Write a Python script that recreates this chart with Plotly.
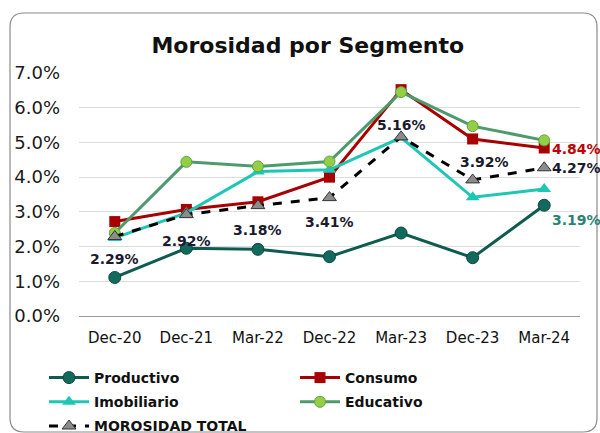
import plotly.graph_objects as go

categories = ["Dec-20", "Dec-21", "Mar-22", "Dec-22", "Mar-23", "Dec-23", "Mar-24"]
productivo = [1.11, 1.95, 1.92, 1.71, 2.39, 1.68, 3.19]
consumo = [2.72, 3.07, 3.29, 4.00, 6.52, 5.10, 4.84]
imobiliario = [2.25, 2.97, 4.16, 4.21, 5.14, 3.42, 3.66]
educativo = [2.39, 4.44, 4.31, 4.45, 6.45, 5.47, 5.06]
total = [2.29, 2.92, 3.18, 3.41, 5.16, 3.92, 4.27]
y_ticks = [0, 1, 2, 3, 4, 5, 6, 7]

FONT = "DejaVu Sans"
W, H = 600, 433
L, R, T, B = 79, 20, 73, 117
PW, PH = W - L - R, H - T - B

fig = go.Figure()
fig.add_trace(go.Scatter(x=categories, y=productivo, name="Productivo", mode="lines+markers",
                         legend="legend", legendgroup="p",
                         line=dict(color="#0E5C50", width=3),
                         marker=dict(symbol="circle", size=12, color="#13695C",
                                     line=dict(color="#0A4A40", width=1))))
fig.add_trace(go.Scatter(x=categories, y=consumo, name="Consumo", mode="lines+markers",
                         legend="legend2", legendgroup="c",
                         line=dict(color="#A80000", width=3),
                         marker=dict(symbol="square", size=11, color="#A80000")))
fig.add_trace(go.Scatter(x=categories, y=imobiliario, name="Imobiliario", mode="lines+markers",
                         legend="legend", legendgroup="i",
                         line=dict(color="#1EC6B4", width=3),
                         marker=dict(symbol="triangle-up", size=12, color="#1EC6B4")))
fig.add_trace(go.Scatter(x=categories, y=educativo, name="Educativo", mode="lines+markers",
                         legend="legend2", legendgroup="e",
                         line=dict(color="#4F9A6C", width=3),
                         marker=dict(symbol="circle", size=11, color="#92CF45",
                                     line=dict(color="#5FA348", width=1))))
fig.add_trace(go.Scatter(x=categories, y=total, name="MOROSIDAD TOTAL", mode="lines+markers",
                         legend="legend", legendgroup="t",
                         line=dict(color="#000000", width=3, dash="dash"),
                         marker=dict(symbol="triangle-up", size=12, color="#8C8C8C",
                                     line=dict(color="#333333", width=1))))

# data labels
label_specs = [
    (total, 0, 0, -22, "#1A1A2E"),
    (total, 1, 0, -26, "#1A1A2E"),
    (total, 2, 0, -24, "#1A1A2E"),
    (total, 3, 0, -24, "#1A1A2E"),
    (total, 4, 0, 12, "#1A1A2E"),
    (total, 5, 12, 18, "#1A1A2E"),
    (total, 6, 32, 0, "#1A1A2E"),
    (consumo, 6, 32, -1, "#C00000"),
    (productivo, 6, 32, -15, "#2A8276"),
]
for series, i, dx, dy, col in label_specs:
    fig.add_annotation(x=categories[i], y=series[i], text=f"{series[i]:.2f}%",
                       showarrow=False, xshift=dx, yshift=dy,
                       font=dict(family=FONT, size=14, color=col, weight="bold"))

legend_common = dict(orientation="v", xref="container", yref="container",
                     xanchor="left", yanchor="top", bgcolor="rgba(0,0,0,0)",
                     font=dict(family=FONT, size=14, color="#111111", weight="bold"),
                     traceorder="grouped", itemwidth=40, tracegroupgap=3)

fig.update_layout(
    width=W, height=H,
    margin=dict(l=L, r=R, t=T, b=B, autoexpand=False),
    paper_bgcolor="white", plot_bgcolor="white",
    font=dict(family=FONT, color="#1A1A1A"),
    title=dict(text="<b>Morosidad por Segmento</b>", x=0.513, xanchor="center",
               y=1 - 45 / H, yanchor="middle", yref="container",
               font=dict(family=FONT, size=22, color="#111111")),
    showlegend=True,
    legend=dict(x=44 / W, y=1 - 362 / H, **legend_common),
    legend2=dict(x=295 / W, y=1 - 362 / H, **legend_common),
    xaxis=dict(type="category", range=[-0.5, 6.5], showgrid=False, showline=True,
               linecolor="#9A9A9A", linewidth=1, ticks="", ticklabelstandoff=8,
               tickfont=dict(family=FONT, size=15, color="#111111")),
    yaxis=dict(range=[0, 7], tickvals=y_ticks, ticktext=[f"{v:.1f}%" for v in y_ticks],
               showgrid=True, gridcolor="#DCDCDC", gridwidth=1, zeroline=False,
               showline=False, ticklabelstandoff=18,
               tickfont=dict(family=FONT, size=18, color="#1A1A1A")),
)

# rounded border around the chart (pixel coords converted to plot-area paper coords)
def px(x):
    return (x - L) / PW


def py(y):
    return (H - B - y) / PH


x0, y0, x1, y1, r = 10, 13, 597, 432, 14
path = (f"M {px(x0 + r)},{py(y0)} L {px(x1 - r)},{py(y0)} Q {px(x1)},{py(y0)} {px(x1)},{py(y0 + r)} "
        f"L {px(x1)},{py(y1 - r)} Q {px(x1)},{py(y1)} {px(x1 - r)},{py(y1)} L {px(x0 + r)},{py(y1)} "
        f"Q {px(x0)},{py(y1)} {px(x0)},{py(y1 - r)} L {px(x0)},{py(y0 + r)} Q {px(x0)},{py(y0)} {px(x0 + r)},{py(y0)} Z")
fig.add_shape(type="path", xref="paper", yref="paper", path=path,
              line=dict(color="#8A8A8A", width=1.2), layer="below")

fig.write_html("out.html", config={"displayModeBar": False},
               post_script="document.body.style.margin='0';document.body.style.padding='0';"
                           "document.body.style.overflow='hidden';")
